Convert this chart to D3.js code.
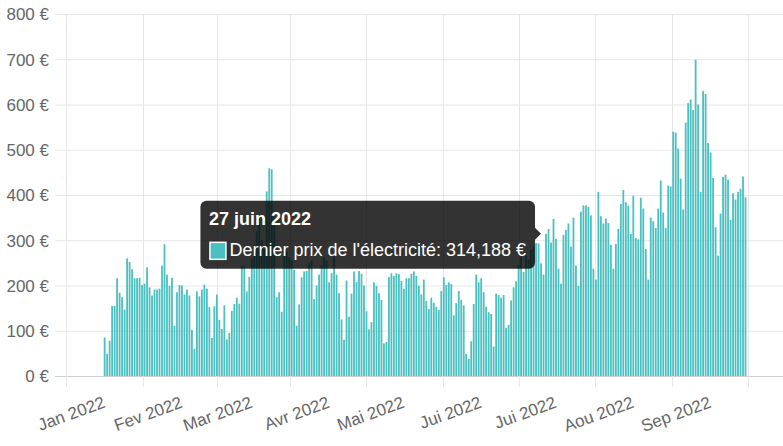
<!DOCTYPE html>
<html><head><meta charset="utf-8">
<script src="https://cdn.jsdelivr.net/npm/d3@7"></script>
<style>
html,body{margin:0;padding:0;background:#fff;}
svg{display:block;font-family:"Liberation Sans",Arial,Helvetica,sans-serif;}
</style></head><body>
<svg id="chart" width="783" height="446"></svg>
<script>
// ---- data ----
const firstDay = "2022-01-01";
const prices = [
85,49,78,155,155,216,184,174,147,260,252,236,216,216,217,201,204,240,196,178,
191,191,193,244,291,224,199,217,111,185,201,200,180,191,178,102,60,187,176,191,
202,193,152,84,154,180,124,104,156,81,95,144,159,173,160,243,243,187,219,258,
290,320,350,300,280,408,459,457,350,174,185,142,265,275,262,255,235,111,158,218,
231,232,250,255,170,200,224,245,262,255,207,227,264,224,183,125,80,211,131,182,
231,208,232,226,200,143,103,119,207,199,183,168,72,75,219,227,221,227,225,210,
193,216,216,226,231,221,200,180,213,166,148,173,162,153,146,188,218,201,207,203,
134,161,188,168,156,49,38,77,159,224,207,216,185,153,141,137,65,182,179,173,
179,106,113,167,196,209,245,264,230,266,257,280,286,294,293,249,224,314.188,325,295,
347,303,237,204,312,323,337,286,350,244,199,363,377,377,374,355,237,213,407,353,
337,348,338,290,237,292,325,380,411,384,376,314,398,305,302,394,370,281,213,350,
342,327,370,432,361,327,421,419,540,538,503,436,368,560,603,611,588,699,600,407,
630,623,515,494,438,329,266,359,440,445,434,345,404,390,407,414,441,395
];
const monthStarts = ["2022-01-01","2022-02-01","2022-03-01","2022-04-01","2022-05-01","2022-06-01","2022-07-01","2022-08-01","2022-09-01"];
const monthLabels = ["Jan 2022","Fev 2022","Mar 2022","Avr 2022","Mai 2022","Jui 2022","Jui 2022","Aou 2022","Sep 2022"];
const gridMonths = ["2021-12-01","2022-01-01","2022-02-01","2022-03-01","2022-04-01","2022-05-01","2022-06-01","2022-07-01","2022-08-01","2022-09-01","2022-10-01"];
const yTicks = [0,100,200,300,400,500,600,700,800];
const seriesName = "Dernier prix de l'électricité";
const tooltipDay = "2022-06-27";
const tooltipTitle = "27 juin 2022";

// ---- setup ----
const parse = d3.utcParse("%Y-%m-%d");
const start = parse(firstDay);
const days = d3.utcDay.range(start, d3.utcDay.offset(start, prices.length));
const data = days.map((d, i) => ({date: d, value: prices[i]}));

const fr = d3.formatLocale({decimal: ",", thousands: "\u00a0", grouping: [3], currency: ["", " €"]});
const fmtVal = fr.format(".3~f");

const svg = d3.select("#chart");
const W = 783;
const yTop = 14, yBottom = 376;

const gm = gridMonths.map(parse);
const mids = d3.pairs(gm).map(([a, b]) => new Date((+a + +b) / 2));

const x = d3.scaleUtc().domain([mids[0], mids[mids.length - 1]]).range([66, 748]);
const y = d3.scaleLinear().domain([0, 800]).range([yBottom, yTop]);

// horizontal grid
svg.append("g").selectAll("line").data(yTicks).join("line")
  .attr("x1", 55).attr("x2", W)
  .attr("y1", d => y(d) + 0.5).attr("y2", d => y(d) + 0.5)
  .attr("stroke", d => d === 0 ? "#cfcfcf" : "#e6e6e6").attr("stroke-width", 1);

// vertical grid (between month ticks)
svg.append("g").selectAll("line").data(mids).join("line")
  .attr("x1", d => Math.round(x(d)) + 0.5).attr("x2", d => Math.round(x(d)) + 0.5)
  .attr("y1", yTop).attr("y2", 387)
  .attr("stroke", "#e6e6e6").attr("stroke-width", 1);

// y axis labels
const yAxis = d3.axisLeft(y).tickValues(yTicks).tickSize(0).tickPadding(0).tickFormat(d => d + " €");
const gy = svg.append("g").attr("transform", "translate(49,0)").call(yAxis);
gy.select(".domain").remove();
gy.selectAll("text").attr("fill", "#666").style("font-size", "17px")
  .attr("font-family", '"Liberation Sans",Arial,sans-serif').attr("dy", "0.35em");

// x axis labels
const xAxis = d3.axisBottom(x).tickValues(monthStarts.map(parse)).tickSize(0)
  .tickFormat((d, i) => monthLabels[i]);
const gx = svg.append("g").attr("transform", "translate(1,407)").call(xAxis);
gx.select(".domain").remove();
gx.selectAll("text").attr("fill", "#666").style("font-size", "17px")
  .attr("font-family", '"Liberation Sans",Arial,sans-serif')
  .attr("text-anchor", "end").attr("x", 0).attr("y", 0).attr("dy", 0)
  .attr("transform", "rotate(-20)");

// bars
const bw = 1.8;
svg.append("g").selectAll("rect").data(data).join("rect")
  .attr("x", d => x(d.date) - bw / 2)
  .attr("width", bw)
  .attr("y", d => y(d.value))
  .attr("height", d => y(0) - y(d.value))
  .attr("fill", "#4bc0c0");

// tooltip
const td = data.find(d => +d.date === +parse(tooltipDay));
const tipX = x(td.date) - 5, tipY = y(td.value);
const tg = svg.append("g");
const bodyText = seriesName + ": " + fmtVal(td.value) + " €";
const tmp = tg.append("text").style("font-size", "18px").text(bodyText);
const bodyW = tmp.node().getComputedTextLength();
tmp.remove();
const rr = tipX - 6;
const rw = 29 + bodyW + 9;
const rl = rr - rw;
const rt = tipY - 33, rh = 68;
tg.append("rect").attr("x", rl).attr("y", rt).attr("width", rw).attr("height", rh)
  .attr("rx", 6).attr("fill", "rgba(0,0,0,0.8)");
tg.append("path").attr("d", `M${rr},${tipY - 6}L${tipX},${tipY}L${rr},${tipY + 6}Z`)
  .attr("fill", "rgba(0,0,0,0.8)");
tg.append("text").attr("x", rl + 8.5).attr("y", rt + 24.5).attr("fill", "#fff")
  .style("font-size", "18px").style("font-weight", "bold").text(tooltipTitle);
tg.append("rect").attr("x", rl + 9.5).attr("y", rt + 41.5).attr("width", 16).attr("height", 17)
  .attr("fill", "#4bc0c0").attr("stroke", "#fff").attr("stroke-width", 1.5);
tg.append("text").attr("x", rl + 29).attr("y", rt + 55).attr("fill", "#fff")
  .style("font-size", "18px").text(bodyText);
</script>
</body></html>
